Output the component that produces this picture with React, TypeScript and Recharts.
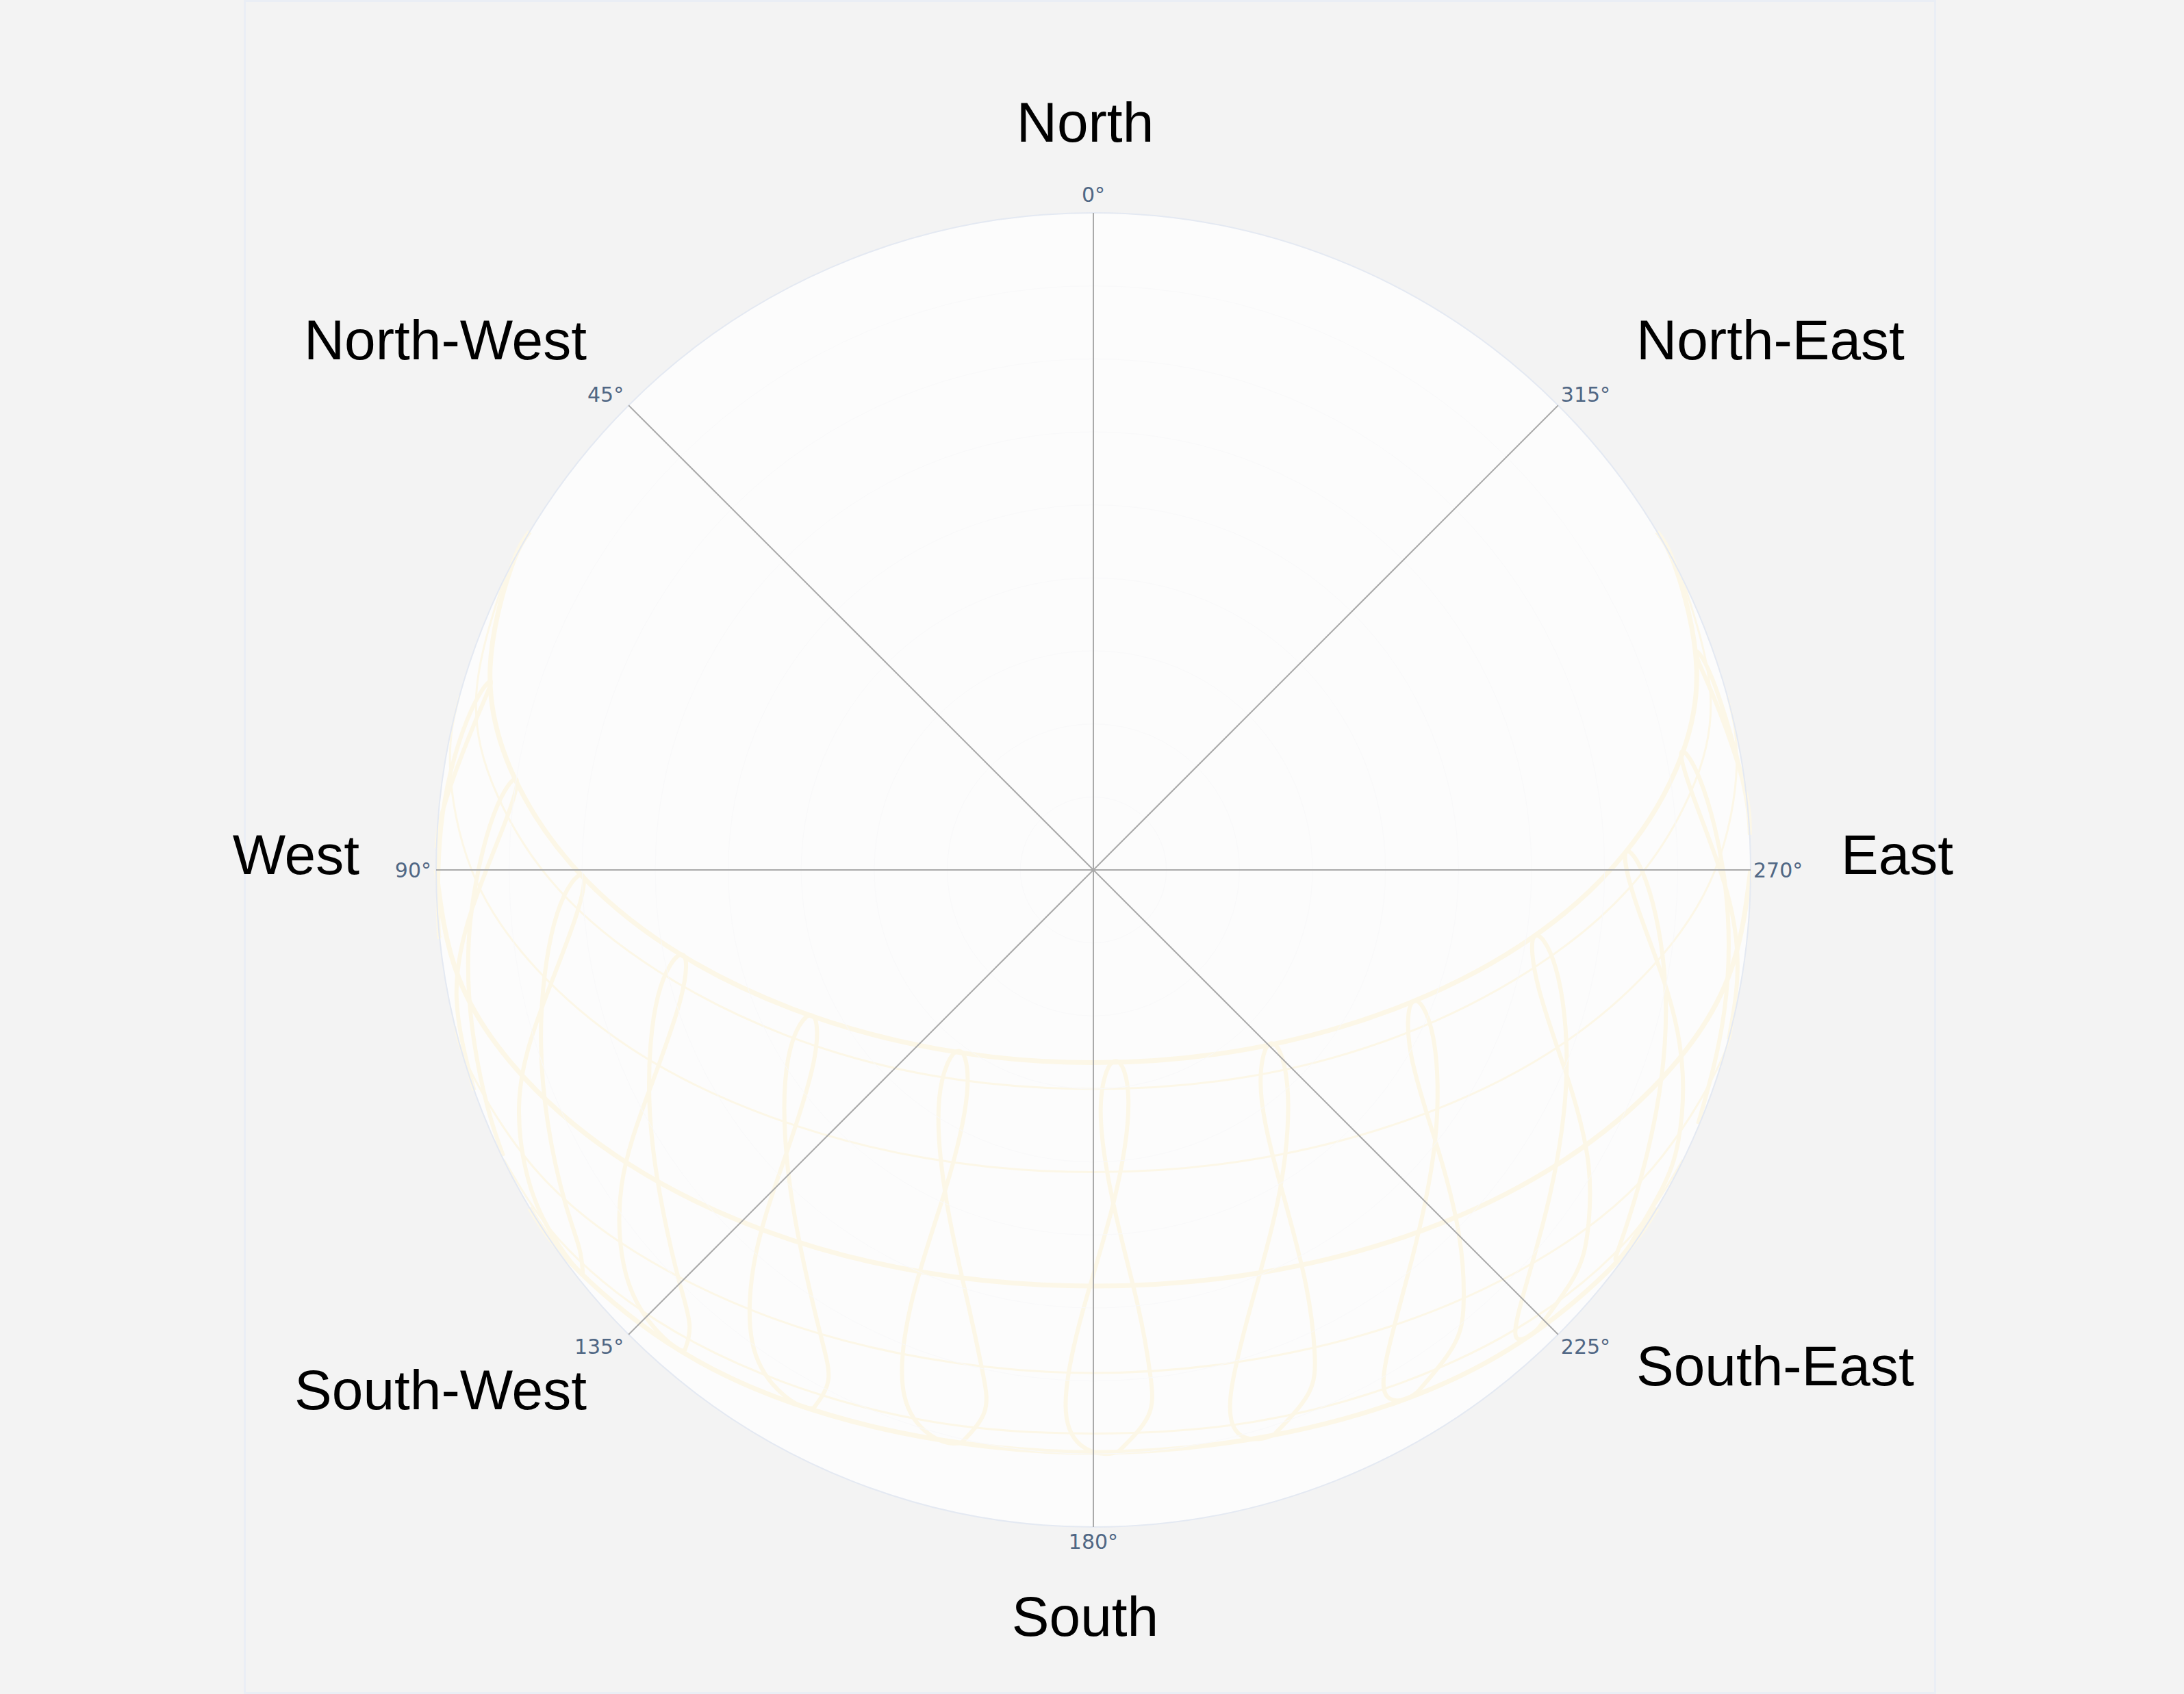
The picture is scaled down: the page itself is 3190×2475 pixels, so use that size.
import React from 'react';
import {
  PieChart, Pie, ScatterChart, Scatter, XAxis, YAxis,
  RadarChart, Radar, PolarGrid, PolarAngleAxis, PolarRadiusAxis,
} from 'recharts';

// sky disc geometry (horizon radius = 90 data units)
const W = 3190;
const H = 2475;
const CX = 1597;
const CY = 1271;
const R = 960;

const SUN = '#fcf7e7';
const TICK_FONT = '"DejaVu Sans", Verdana, sans-serif';
const LABEL_FONT = '"Liberation Sans", Arial, sans-serif';

// angular axis, listed clockwise from the top
const angleTicks = ['0°', '315°', '270°', '225°', '180°', '135°', '90°', '45°'];
const compassNames = ['North', 'North-East', 'East', 'South-East', 'South', 'South-West', 'West', 'North-West'];

// day paths, [east-west, north-south] in sky units (west negative, south negative)
const dayJun = [[-77.2, 46.3], [-79.8, 41.2], [-82.6, 27.7], [-79.8, 13.8], [-71.5, 0.8], [-58.4, -10.4], [-41.3, -19.0], [-21.4, -24.5], [0, -26.4], [21.4, -24.5], [41.3, -19.0], [58.4, -10.4], [71.5, 0.8], [79.8, 13.8], [82.6, 27.7], [79.8, 41.2], [77.2, 46.3]];
const dayMayJul = [[-80.6, 40.1], [-84.5, 24.0], [-81.6, 10.2], [-73.2, -2.7], [-59.7, -13.8], [-42.2, -22.6], [-21.9, -28.2], [0, -30.0], [21.9, -28.2], [42.2, -22.6], [59.7, -13.8], [73.2, -2.7], [81.6, 10.2], [84.5, 24.0], [80.6, 40.1]];
const dayAprAug = [[-86.8, 23.9], [-88.1, 14.4], [-85.1, -0.1], [-76.3, -13.5], [-62.3, -25.1], [-44.0, -33.9], [-22.8, -39.5], [0, -41.4], [22.8, -39.5], [44.0, -33.9], [62.3, -25.1], [76.3, -13.5], [85.1, -0.1], [88.1, 14.4], [86.8, 23.9]];
const dayEquinox = [[-90, 0], [-86.9, -14.8], [-77.9, -28.5], [-63.6, -40.3], [-45.0, -49.4], [-23.3, -55.1], [0, -57.0], [23.3, -55.1], [45.0, -49.4], [63.6, -40.3], [77.9, -28.5], [86.9, -14.8], [90, 0]];
const dayFebOct = [[-87.4, -21.4], [-85.4, -27.3], [-76.6, -40.8], [-62.6, -52.4], [-44.2, -61.3], [-22.9, -66.9], [0, -68.9], [22.9, -66.9], [44.2, -61.3], [62.6, -52.4], [76.6, -40.8], [85.4, -27.3], [87.4, -21.4]];
const dayJanNov = [[-80.7, -39.7], [-73.2, -50.6], [-59.8, -61.7], [-42.3, -70.2], [-21.9, -75.6], [0, -77.2], [21.9, -75.6], [42.3, -70.2], [59.8, -61.7], [73.2, -50.6], [80.7, -39.7]];
const dayDec = [[-77.2, -46.3], [-71.5, -53.9], [-58.4, -64.7], [-41.3, -73.0], [-21.4, -78.0], [0, -79.8], [21.4, -78.0], [41.3, -73.0], [58.4, -64.7], [71.5, -53.9], [77.2, -46.3]];

// hourly analemmas over the year
const ana06 = [[89.9, 4.9], [89.1, 11.5], [85.3, 22.8], [82.5, 29.6], [84.7, 26.3], [88.8, 12.7], [89.9, 4.8]];
const ana07 = [[87.0, -23.2], [88.2, -13.9], [86.8, -3.2], [82.6, 8.8], [80.5, 16.0], [83.1, 12.3], [86.5, -2.0], [86.4, -19.3], [82.8, -34.8]];
const ana08 = [[73.4, -51.5], [77.9, -43.6], [80.1, -37.1], [80.7, -28.0], [78.7, -17.0], [74.4, -4.8], [72.9, 2.4], [75.7, -1.6], [78.3, -15.7], [77.1, -32.9], [73.3, -47.8], [71.5, -53.2], [72.3, -52.9], [73.4, -51.5]];
const ana09 = [[61.0, -62.7], [65.9, -55.6], [67.7, -49.4], [67.8, -40.4], [65.1, -29.0], [61.0, -16.3], [60.4, -9.1], [63.3, -13.4], [64.8, -27.6], [62.5, -44.6], [58.7, -58.8], [57.9, -64.0], [59.6, -63.9], [61.0, -62.7]];
const ana10 = [[44.4, -71.5], [49.3, -65.2], [50.7, -59.3], [50.1, -50.2], [47.2, -38.3], [43.5, -25.3], [43.8, -18.0], [46.5, -22.8], [46.8, -37.0], [43.6, -53.4], [40.1, -67.1], [40.3, -72.2], [42.7, -72.5], [44.4, -71.5]];
const ana11 = [[24.8, -77.3], [29.4, -71.8], [30.3, -66.1], [29.1, -56.8], [26.0, -44.5], [23.0, -31.0], [24.2, -23.8], [26.5, -29.0], [25.7, -43.0], [21.8, -58.9], [18.8, -72.0], [20.0, -77.3], [23.0, -77.9], [24.8, -77.3]];
const ana12 = [[3.5, -79.6], [7.5, -74.8], [7.8, -69.2], [6.1, -59.7], [3.0, -46.9], [1.0, -33.0], [2.9, -26.2], [4.8, -31.6], [2.8, -45.4], [-1.5, -60.6], [-3.8, -73.2], [-1.7, -78.8], [1.7, -80.0], [3.5, -79.6]];
const ana13 = [[-18.0, -78.4], [-14.9, -74.2], [-15.2, -68.6], [-17.3, -58.8], [-20.1, -45.4], [-21.1, -31.3], [-18.5, -24.8], [-17.3, -30.6], [-20.3, -43.9], [-24.7, -58.4], [-26.1, -70.7], [-23.2, -76.7], [-19.8, -78.5], [-18.0, -78.4]];
const ana14 = [[-38.3, -73.7], [-36.3, -69.9], [-37.2, -64.3], [-39.6, -54.1], [-41.9, -40.3], [-41.8, -25.9], [-38.7, -19.9], [-38.2, -25.8], [-42.0, -38.7], [-46.2, -52.5], [-46.7, -64.7], [-43.2, -71.2], [-39.9, -73.5], [-38.3, -73.7]];
const ana15 = [[-56.0, -65.9], [-55.3, -62.3], [-56.7, -56.4], [-59.1, -45.8], [-60.8, -31.7], [-59.6, -17.2], [-56.3, -11.6], [-56.5, -17.6], [-60.8, -30.2], [-64.6, -43.2], [-64.0, -55.4], [-60.3, -62.5], [-57.2, -65.4], [-56.0, -65.9]];
const ana16 = [[-69.9, -55.4], [-70.4, -51.8], [-72.3, -45.7], [-74.7, -34.7], [-75.6, -20.3], [-73.4, -5.9], [-70.0, -0.7], [-71.0, -6.8], [-75.5, -18.8], [-78.6, -31.3], [-77.0, -43.7], [-73.2, -51.4], [-70.7, -54.7], [-69.9, -55.4]];
const ana17 = [[-80.8, -39.2], [-82.9, -32.7], [-85.1, -21.3], [-85.3, -6.9], [-82.1, 7.6], [-79.0, 12.4], [-80.6, 6.4], [-85.1, -5.4], [-87.2, -17.5], [-84.8, -30.2]];
const ana18 = [[-89.55, -9.0], [-89.7, -6.8], [-89.1, 7.7], [-85.3, 21.6], [-82.5, 25.8], [-84.7, 20.2], [-88.8, 9.1], [-89.95, 3.0]];

const dayPaths = [
  { name: 'Jun', pts: dayJun, width: 7 },
  { name: 'May/Jul', pts: dayMayJul, width: 3 },
  { name: 'Apr/Aug', pts: dayAprAug, width: 3 },
  { name: 'Mar/Sep', pts: dayEquinox, width: 7 },
  { name: 'Feb/Oct', pts: dayFebOct, width: 3 },
  { name: 'Jan/Nov', pts: dayJanNov, width: 3 },
  { name: 'Dec', pts: dayDec, width: 7 },
];
const analemmas = [ana06, ana07, ana08, ana09, ana10, ana11, ana12, ana13, ana14, ana15, ana16, ana17, ana18];

// where the big compass names sit (same order as compassNames)
const compassPlacement = [
  { x: 1585, y: 207, anchor: 'middle' },
  { x: 2390, y: 525, anchor: 'start' },
  { x: 2689, y: 1277, anchor: 'start' },
  { x: 2390, y: 2024, anchor: 'start' },
  { x: 1585, y: 2390, anchor: 'middle' },
  { x: 857, y: 2059, anchor: 'end' },
  { x: 525, y: 1277, anchor: 'end' },
  { x: 857, y: 525, anchor: 'end' },
];

const toXY = (pts: number[][]) => pts.map(([x, y]) => ({ x, y }));
const NoDot = () => <g />;

function AngleTick(props: any) {
  const { payload } = props;
  const i = angleTicks.indexOf(payload.value);
  const a = (payload.coordinate * Math.PI) / 180;
  const c = Math.cos(a);
  const s = Math.sin(a);
  const ex = CX + R * c;
  const ey = CY - R * s;
  let anchor = 'middle';
  let tx = ex;
  if (c > 0.1) { anchor = 'start'; tx = ex + 4; }
  else if (c < -0.1) { anchor = 'end'; tx = ex - 7; }
  let ty = ey;
  let base = 'central';
  if (s > 0.9) { ty = ey - 16; base = 'auto'; }
  else if (s > 0.1) { ty = ey - 5; base = 'auto'; }
  else if (s < -0.9) { ty = ey + 10; base = 'hanging'; }
  else if (s < -0.1) { ty = ey + 6; base = 'hanging'; }
  const p = compassPlacement[i];
  return (
    <g>
      <text x={tx} y={ty} textAnchor={anchor as any} dominantBaseline={base as any}
        fontFamily={TICK_FONT} fontSize={30} fill="#506784">{payload.value}</text>
      {p && (
        <text x={p.x} y={p.y} textAnchor={p.anchor as any} fontFamily={LABEL_FONT} fontSize={82} fill="#000">
          {compassNames[i]}
        </text>
      )}
    </g>
  );
}

const layer: React.CSSProperties = { position: 'absolute', left: 0, top: 0 };

export default function App() {
  const radarData = angleTicks.map((t) => ({ angle: t, v: 0 }));
  return (
    <div style={{ position: 'relative', width: W, height: H, background: '#f3f3f3', overflow: 'hidden' }}>
      <style>{'body{margin:0}'}</style>
      <div style={{ position: 'absolute', left: 356, top: 0, width: 2472, height: 2475, border: '3px solid #eaeef5', boxSizing: 'border-box' }} />

      <div style={layer}>
        <PieChart width={W} height={H} margin={{ top: 0, right: 0, bottom: 0, left: 0 }}>
          <Pie data={[{ name: 'sky', value: 1 }]} dataKey="value" cx={CX} cy={CY} outerRadius={R}
            startAngle={90} endAngle={450} fill="#fcfcfc" stroke="none" isAnimationActive={false} />
        </PieChart>
      </div>

      <div style={layer}>
        <ScatterChart width={W} height={H}
          margin={{ top: CY - R, left: CX - R, right: W - CX - R, bottom: H - CY - R }}>
          <XAxis type="number" dataKey="x" domain={[-90, 90]} hide />
          <YAxis type="number" dataKey="y" domain={[-90, 90]} hide />
          {dayPaths.map((d) => (
            <Scatter key={d.name} name={d.name} data={toXY(d.pts)} fill={SUN} shape={NoDot}
              line={{ stroke: SUN, strokeWidth: d.width }} lineJointType="natural" isAnimationActive={false} />
          ))}
          {analemmas.map((a, i) => (
            <Scatter key={'a' + i} data={toXY(a)} fill={SUN} shape={NoDot}
              line={{ stroke: SUN, strokeWidth: 6 }} lineJointType="natural" isAnimationActive={false} />
          ))}
        </ScatterChart>
      </div>

      <div style={layer}>
        <RadarChart width={W} height={H} data={radarData} cx={CX} cy={CY} outerRadius={R}
          margin={{ top: 0, right: 0, bottom: 0, left: 0 }}>
          <PolarGrid gridType="circle" radialLines={false} stroke="#f9f9fa" strokeWidth={1} />
          <PolarGrid gridType="circle" polarRadius={[R]} radialLines={false} stroke="#e4e9f2" strokeWidth={2} />
          <PolarGrid gridType="circle" polarRadius={[]} stroke="#aaaaaa" strokeWidth={2} />
          <PolarRadiusAxis domain={[0, 90]} tickCount={10} tick={false} axisLine={false} />
          <PolarAngleAxis dataKey="angle" tick={AngleTick} axisLine={false} tickLine={false} />
          <Radar dataKey="v" stroke="none" fill="none" isAnimationActive={false} />
        </RadarChart>
      </div>
    </div>
  );
}
